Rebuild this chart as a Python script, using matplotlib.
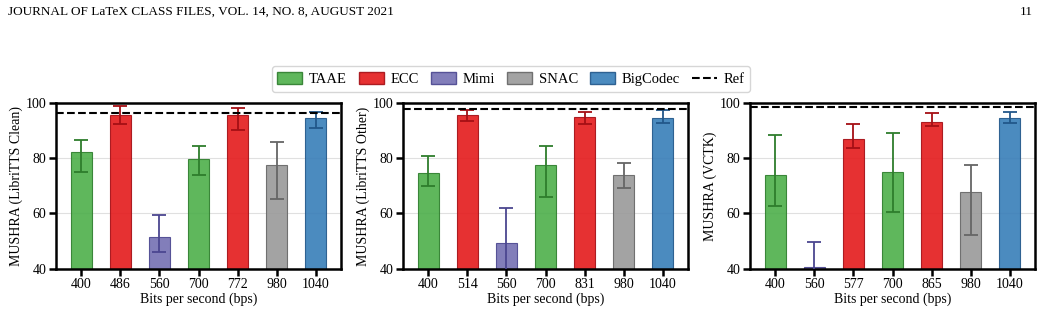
import numpy as np
import matplotlib.pyplot as plt
from matplotlib.patches import Patch
from matplotlib.lines import Line2D

plt.rcParams['font.family'] = ['Liberation Serif', 'DejaVu Serif']
plt.rcParams['font.size'] = 10

# codec colours
colors = {'TAAE': '#4daf4a', 'ECC': '#e41a1c', 'Mimi': '#7570b3',
          'SNAC': '#999999', 'BigCodec': '#377eb8'}
edges = {'TAAE': '#2e7d2c', 'ECC': '#a50f15', 'Mimi': '#4b4690',
         'SNAC': '#666666', 'BigCodec': '#22578a'}

# LibriTTS Clean
clean_bps = ['400', '486', '560', '700', '772', '980', '1040']
clean_model = ['TAAE', 'ECC', 'Mimi', 'TAAE', 'ECC', 'SNAC', 'BigCodec']
clean_mean = [82.2, 95.6, 51.3, 79.6, 95.9, 77.7, 94.7]
clean_lo = [75.0, 92.6, 46.1, 74.1, 90.3, 65.2, 91.2]
clean_hi = [86.5, 99.2, 59.3, 84.5, 98.4, 85.8, 96.7]
clean_ref = 96.6

# LibriTTS Other
other_bps = ['400', '514', '560', '700', '831', '980', '1040']
other_model = ['TAAE', 'ECC', 'Mimi', 'TAAE', 'ECC', 'SNAC', 'BigCodec']
other_mean = [74.8, 95.8, 49.3, 77.7, 94.9, 74.1, 94.7]
other_lo = [69.8, 93.7, 37.0, 66.1, 92.4, 69.3, 92.8]
other_hi = [81.0, 97.7, 61.9, 84.5, 96.7, 78.3, 97.6]
other_ref = 97.9

# VCTK
vctk_bps = ['400', '560', '577', '700', '865', '980', '1040']
vctk_model = ['TAAE', 'Mimi', 'ECC', 'TAAE', 'ECC', 'SNAC', 'BigCodec']
vctk_mean = [73.8, 40.6, 87.0, 75.2, 93.2, 67.9, 94.8]
vctk_lo = [62.7, 31.0, 83.9, 60.5, 91.6, 52.3, 92.7]
vctk_hi = [88.4, 49.6, 92.6, 89.1, 96.4, 77.7, 96.7]
vctk_ref = 98.6

panels = [
    ('MUSHRA (LibriTTS Clean)', clean_bps, clean_model, clean_mean, clean_lo, clean_hi, clean_ref),
    ('MUSHRA (LibriTTS Other)', other_bps, other_model, other_mean, other_lo, other_hi, other_ref),
    ('MUSHRA (VCTK)', vctk_bps, vctk_model, vctk_mean, vctk_lo, vctk_hi, vctk_ref),
]

fig = plt.figure(figsize=(10.41, 3.13), dpi=100)
lefts = [56, 403, 750]
W, H = 1041, 313
for (ylab, bps, model, mean, lo, hi, ref), lx in zip(panels, lefts):
    ax = fig.add_axes([lx / W, 1 - 268.5 / H, 285 / W, (268.5 - 103.3) / H])
    x = np.arange(len(bps))
    mean = np.array(mean)
    yerr = np.array([mean - np.array(lo), np.array(hi) - mean])
    for i in range(len(bps)):
        m = model[i]
        ax.bar(x[i], mean[i], width=0.52, bottom=0, color=colors[m], alpha=0.9,
               edgecolor=edges[m], linewidth=0.8, zorder=2)
        ax.errorbar(x[i], mean[i], yerr=yerr[:, i:i + 1], fmt='none',
                    ecolor=edges[m], elinewidth=1.3, capsize=5, capthick=1.3, zorder=3)
    ax.axhline(ref, color='black', linestyle='--', linewidth=1.5, zorder=4)
    ax.set_ylim(40, 100)
    ax.set_xlim(-0.65, len(bps) - 0.35)
    ax.set_yticks([40, 60, 80, 100])
    ax.set_xticks(x)
    ax.set_xticklabels(bps)
    ax.set_ylabel(ylab, labelpad=2)
    ax.set_xlabel('Bits per second (bps)', labelpad=1)
    ax.yaxis.grid(True, color='#e0e0e0', linewidth=0.8, zorder=0)
    ax.set_axisbelow(True)
    for s in ax.spines.values():
        s.set_linewidth(1.8)
    ax.tick_params(axis='both', width=1.8, length=5, labelsize=10, pad=2)

handles = [Patch(facecolor=colors[k], edgecolor=edges[k], alpha=0.9, label=k)
           for k in ['TAAE', 'ECC', 'Mimi', 'SNAC', 'BigCodec']]
handles.append(Line2D([0], [0], color='black', linestyle='--', linewidth=1.5, label='Ref'))
fig.legend(handles=handles, loc='center', bbox_to_anchor=(511 / W, 1 - 79 / H), ncol=6,
           fontsize=10.5, frameon=True, edgecolor='#cccccc', handlelength=1.7,
           handleheight=0.85, columnspacing=0.85, handletextpad=0.45, borderpad=0.4,
           borderaxespad=0, fancybox=True)

fig.text(8 / W, 1 - 12 / H, 'JOURNAL OF LaTeX CLASS FILES, VOL. 14, NO. 8, AUGUST 2021',
         fontsize=9.5, va='center', ha='left')
fig.text(1033 / W, 1 - 12 / H, '11', fontsize=9.5, va='center', ha='right')

fig.savefig('out.png', dpi=100)
